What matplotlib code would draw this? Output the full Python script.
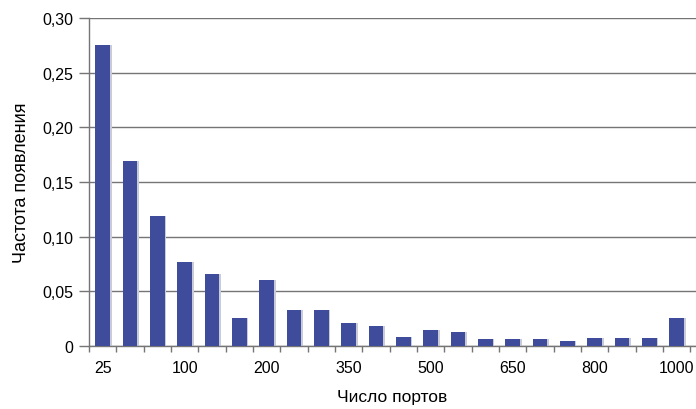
import numpy as np
import matplotlib
matplotlib.use("Agg")
import matplotlib.pyplot as plt
from matplotlib.ticker import FixedLocator, FuncFormatter

# число портов (категории) и частота появления
ports = [25, 50, 75, 100, 125, 150, 200, 250, 300, 350, 400, 450,
         500, 550, 600, 650, 700, 750, 800, 850, 900, 1000]
freq = [0.275, 0.169, 0.119, 0.077, 0.066, 0.026, 0.060, 0.033, 0.033,
        0.021, 0.018, 0.008, 0.015, 0.013, 0.006, 0.006, 0.006, 0.005,
        0.007, 0.007, 0.007, 0.026]
y_ticks = [0, 0.05, 0.10, 0.15, 0.20, 0.25, 0.30]

plt.rcParams["font.family"] = ["Liberation Sans", "DejaVu Sans"]

fig = plt.figure(figsize=(6.96, 4.10), dpi=100)
ax = fig.add_axes([89 / 696, 1 - 347 / 410, 607 / 696, 328 / 410])

x = np.arange(len(ports))
w = 0.53
ax.bar(x + 0.07, freq, width=w, color="#c9ccd8", zorder=2)
ax.bar(x, freq, width=w, color="#3f4c9b", zorder=3)

ax.set_xlim(-0.5, len(ports) - 0.5 + 0.21)
ax.set_ylim(0, 0.30)

ax.yaxis.set_major_locator(FixedLocator(y_ticks))
ax.yaxis.set_major_formatter(FuncFormatter(
    lambda v, p: "0" if v == 0 else f"{v:.2f}".replace(".", ",")))
ax.grid(axis="y", color="#757575", linewidth=1.0, zorder=1)

lab_idx = list(range(0, len(ports), 3))
ax.xaxis.set_major_locator(FixedLocator(lab_idx))
ax.set_xticklabels([str(ports[i]) for i in lab_idx])
ax.xaxis.set_minor_locator(FixedLocator(np.arange(-0.5, len(ports), 1.0)))
ax.tick_params(axis="x", which="major", length=0, pad=10, labelsize=11.5)
ax.tick_params(axis="x", which="minor", length=4, color="#757575", width=1)
ax.tick_params(axis="y", length=7, color="#757575", width=1, pad=4, labelsize=11.5)

for s in ["top", "right"]:
    ax.spines[s].set_visible(False)
for s in ["left", "bottom"]:
    ax.spines[s].set_color("#757575")
    ax.spines[s].set_linewidth(1.0)

ax.set_ylabel("Частота появления", fontsize=13, labelpad=9)
ax.set_xlabel("Число портов", fontsize=12.5, labelpad=10)

fig.savefig("out.png", dpi=100)
